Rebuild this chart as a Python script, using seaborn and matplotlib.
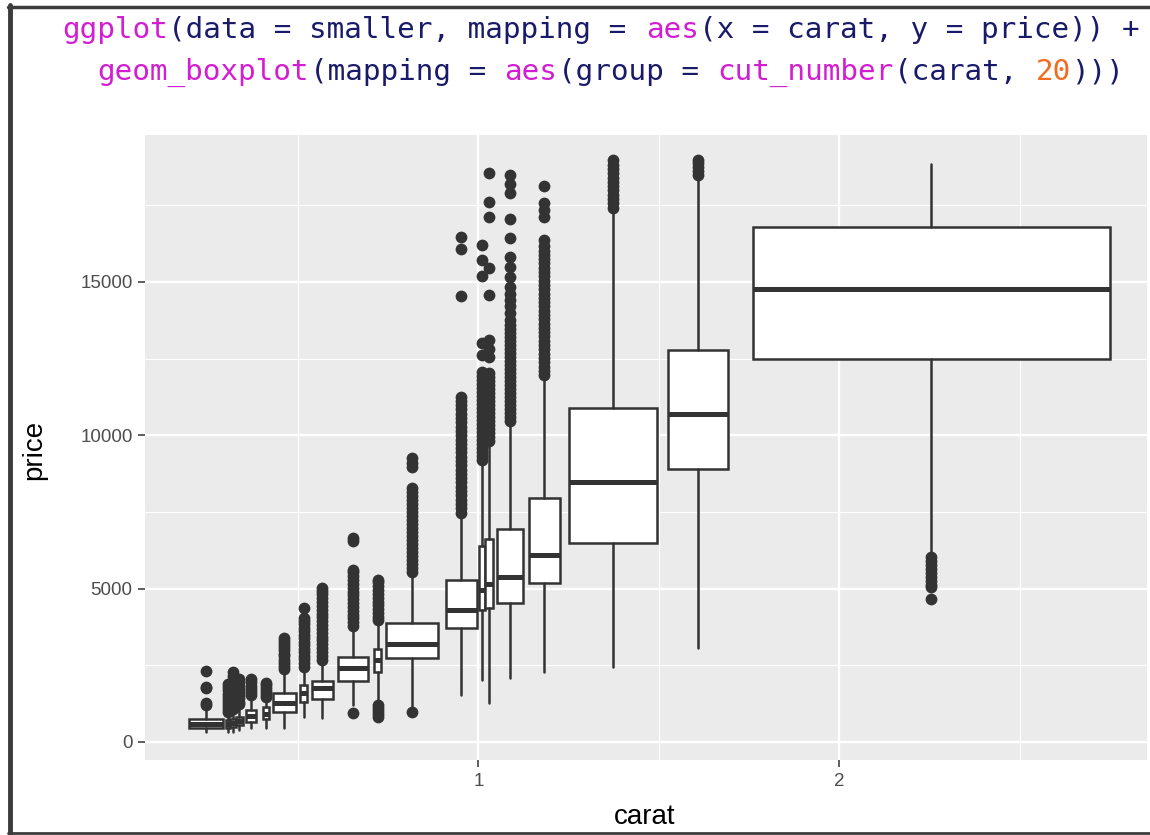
import matplotlib
matplotlib.use("Agg")
import matplotlib.pyplot as plt
import seaborn as sns
import pandas as pd
from matplotlib.lines import Line2D
from matplotlib.ticker import FixedLocator, FixedFormatter

# ---------------- data ----------------
carat_mid = [0.246, 0.307, 0.320, 0.338, 0.370, 0.412, 0.463, 0.516, 0.568, 0.653,
             0.721, 0.816, 0.953, 1.010, 1.030, 1.088, 1.183, 1.373, 1.609, 2.255]
box_width = [0.094, 0.011, 0.017, 0.019, 0.028, 0.017, 0.064, 0.019, 0.058, 0.083,
             0.019, 0.144, 0.086, 0.017, 0.022, 0.072, 0.086, 0.244, 0.166, 0.989]
whisker_low = [336, 330, 340, 380, 456, 456, 456, 815, 780, 1200,
               1250, 1050, 1530, 2020, 1270, 2090, 2280, 2450, 3060, 6100]
q1 = [447, 456, 500, 550, 650, 750, 978, 1300, 1400, 1990,
      2280, 2740, 3720, 4300, 4370, 4530, 5180, 6490, 8900, 12480]
median = [600, 590, 620, 680, 850, 910, 1280, 1600, 1760, 2410,
          2670, 3200, 4300, 4950, 5150, 5380, 6100, 8480, 10690, 14760]
q3 = [750, 720, 760, 820, 1040, 1140, 1600, 1860, 1990, 2770,
      3030, 3880, 5280, 6390, 6620, 6940, 7950, 10890, 12780, 16780]
whisker_high = [1150, 910, 1000, 1150, 1450, 1400, 2300, 2400, 2600, 3700,
                3900, 5380, 7400, 9130, 9750, 10400, 11900, 17340, 18420, 18830]

outliers = [
    [1200, 1280, 1750, 1800, 2330],
    [980, 1080, 1180, 1280, 1380, 1480, 1580, 1680, 1800, 1900],
    [1080, 1170, 1270, 1360, 1460, 1560, 1650, 1760, 1880, 2010, 2150, 2280],
    [1230, 1320, 1430, 1540, 1640, 1730, 1840, 1950, 2060],
    [1540, 1640, 1730, 1840, 1950, 2060],
    [1480, 1570, 1660, 1760, 1860, 1920],
    [2380, 2480, 2590, 2680, 2790, 2880, 2990, 3090, 3190, 3280, 3390],
    [2460, 2580, 2690, 2810, 2920, 3040, 3150, 3270, 3380, 3500, 3610, 3730,
     3840, 3960, 4050, 4370],
    [2680, 2810, 2930, 3060, 3180, 3310, 3430, 3560, 3680, 3810, 3930, 4060,
     4180, 4310, 4430, 4560, 4680, 4810, 4930, 5020],
    [945, 3780, 3900, 4030, 4150, 4280, 4400, 4530, 4650, 4780, 4900, 5030,
     5150, 5280, 5400, 5530, 5600, 6550, 6650],
    [820, 910, 1010, 1100, 1200, 3970, 4090, 4210, 4340, 4460, 4580, 4710,
     4830, 4950, 5080, 5200, 5280],
    [980, 5540, 5670, 5800, 5930, 6060, 6190, 6320, 6450, 6580, 6710, 6840,
     6970, 7100, 7230, 7360, 7490, 7620, 7750, 7880, 8010, 8140, 8280, 8970,
     9100, 9260],
    [7480, 7620, 7760, 7900, 8040, 8180, 8320, 8460, 8600, 8740, 8880, 9020,
     9160, 9300, 9440, 9580, 9720, 9860, 10000, 10140, 10280, 10420, 10560,
     10700, 10840, 10980, 11120, 11250, 14540, 16070, 16460],
    [9200, 9330, 9460, 9590, 9720, 9850, 9980, 10110, 10240, 10370, 10500,
     10630, 10760, 10890, 11020, 11150, 11280, 11410, 11540, 11670, 11800,
     11930, 12050, 12600, 13000, 15200, 15700, 16200],
    [9820, 9950, 10080, 10210, 10340, 10470, 10600, 10730, 10860, 10990,
     11120, 11250, 11380, 11510, 11640, 11770, 11900, 12030, 12550, 12800,
     13100, 14570, 15450, 17100, 17600, 18550],
    [10470, 10600, 10730, 10860, 10990, 11120, 11250, 11380, 11510, 11640,
     11770, 11900, 12030, 12160, 12290, 12420, 12550, 12680, 12810, 12940,
     13070, 13200, 13330, 13460, 13600, 13760, 13990, 14200, 14400, 14600,
     14830, 15160, 15500, 15810, 16430, 17050, 17900, 18200, 18480],
    [11960, 12100, 12240, 12380, 12520, 12660, 12800, 12940, 13080, 13220,
     13360, 13500, 13640, 13780, 13920, 14060, 14200, 14340, 14480, 14620,
     14760, 14900, 15040, 15180, 15320, 15460, 15600, 15740, 15880, 16020,
     16160, 16370, 17120, 17350, 17570, 18130],
    [17420, 17560, 17700, 17840, 17980, 18120, 18260, 18400, 18540, 18680,
     18820, 18970],
    [18500, 18620, 18740, 18860, 18970],
    [6030, 5900, 5770, 5640, 5510, 5380, 5250, 5120, 5050, 4660],
]

x_ticks = [1, 2]
x_tick_labels = ["1", "2"]
x_minor = [0.5, 1.5, 2.5]
y_ticks = [0, 5000, 10000, 15000]
y_tick_labels = ["0", "5000", "10000", "15000"]
y_minor = [2500, 7500, 12500, 17500]

code_line1 = [("ggplot", "m"), ("(data = smaller, mapping = ", "n"), ("aes", "m"),
              ("(x = carat, y = price)) +", "n")]
code_line2 = [("  ", "n"), ("geom_boxplot", "m"), ("(mapping = ", "n"), ("aes", "m"),
              ("(group = ", "n"), ("cut_number", "m"), ("(carat, ", "n"), ("20", "o"),
              (")))", "n")]

# ---------------- style ----------------
sns.set_theme(style="darkgrid", rc={
    "axes.facecolor": "#EBEBEB",
    "figure.facecolor": "white",
    "grid.color": "white",
})
plt.rcParams['font.family'] = ['Liberation Sans', 'DejaVu Sans']

W, H = 1150, 835
fig = plt.figure(figsize=(W / 100, H / 100), dpi=100)
ax = fig.add_axes([145 / W, 75 / H, 1002 / W, 625 / H])

dark = "#333333"
stats = []
for i in range(len(carat_mid)):
    stats.append(dict(med=median[i], q1=q1[i], q3=q3[i],
                      whislo=whisker_low[i], whishi=whisker_high[i], fliers=[]))

ax.bxp(stats, positions=carat_mid, widths=box_width, patch_artist=True,
       showfliers=False, showcaps=False, manage_ticks=False,
       boxprops=dict(facecolor="white", edgecolor=dark, linewidth=1.8),
       medianprops=dict(color=dark, linewidth=3.6, solid_capstyle="butt"),
       whiskerprops=dict(color=dark, linewidth=1.8))

rows = []
for i, vals in enumerate(outliers):
    for v in vals:
        rows.append({"carat": carat_mid[i], "price": v})
df = pd.DataFrame(rows)
sns.scatterplot(data=df, x="carat", y="price", color=dark, s=72, linewidth=0,
                ax=ax, zorder=3, legend=False)

ax.set_xlim(0.0767, 2.852)
ax.set_ylim(-587, 19788)
ax.xaxis.set_major_locator(FixedLocator(x_ticks))
ax.xaxis.set_major_formatter(FixedFormatter(x_tick_labels))
ax.xaxis.set_minor_locator(FixedLocator(x_minor))
ax.yaxis.set_major_locator(FixedLocator(y_ticks))
ax.yaxis.set_major_formatter(FixedFormatter(y_tick_labels))
ax.yaxis.set_minor_locator(FixedLocator(y_minor))
ax.grid(which="major", color="white", linewidth=1.7)
ax.grid(which="minor", color="white", linewidth=0.85)
ax.set_axisbelow(True)
for s in ax.spines.values():
    s.set_visible(False)
ax.tick_params(which="major", length=5, width=1.1, color=dark,
               labelsize=13.5, labelcolor="#4D4D4D", pad=4,
               bottom=True, left=True)
ax.tick_params(which="minor", length=0)

ax.set_xlabel("carat", fontsize=20, color="black")
ax.set_ylabel("price", fontsize=20, color="black")
ax.xaxis.set_label_coords(0.499, -0.070)
ax.yaxis.set_label_coords(-0.098, 0.496)

# ---------------- code header ----------------
colors = {"m": "#D21DD2", "n": "#1A1A6B", "o": "#F26B21"}
charw = 17.7
for line, ybase in ((code_line1, 38), (code_line2, 80)):
    idx = 0
    for seg, c in line:
        fig.text((62 + idx * charw) / W, 1 - ybase / H, seg,
                 family="DejaVu Sans Mono", fontsize=21.2, color=colors[c],
                 ha="left", va="baseline")
        idx += len(seg)

# ---------------- frame of the screenshot ----------------
frame = "#3C3C3C"
fig.add_artist(Line2D([10 / W, 10 / W], [0, 1 - 5 / H], transform=fig.transFigure,
                      color=frame, linewidth=3.5))
fig.add_artist(Line2D([8 / W, 1], [1 - 6.5 / H, 1 - 6.5 / H], transform=fig.transFigure,
                      color=frame, linewidth=2.5))
fig.add_artist(Line2D([8 / W, 1], [1 - 832.5 / H, 1 - 832.5 / H], transform=fig.transFigure,
                      color=frame, linewidth=2.0))

fig.savefig("out.png", dpi=100)
